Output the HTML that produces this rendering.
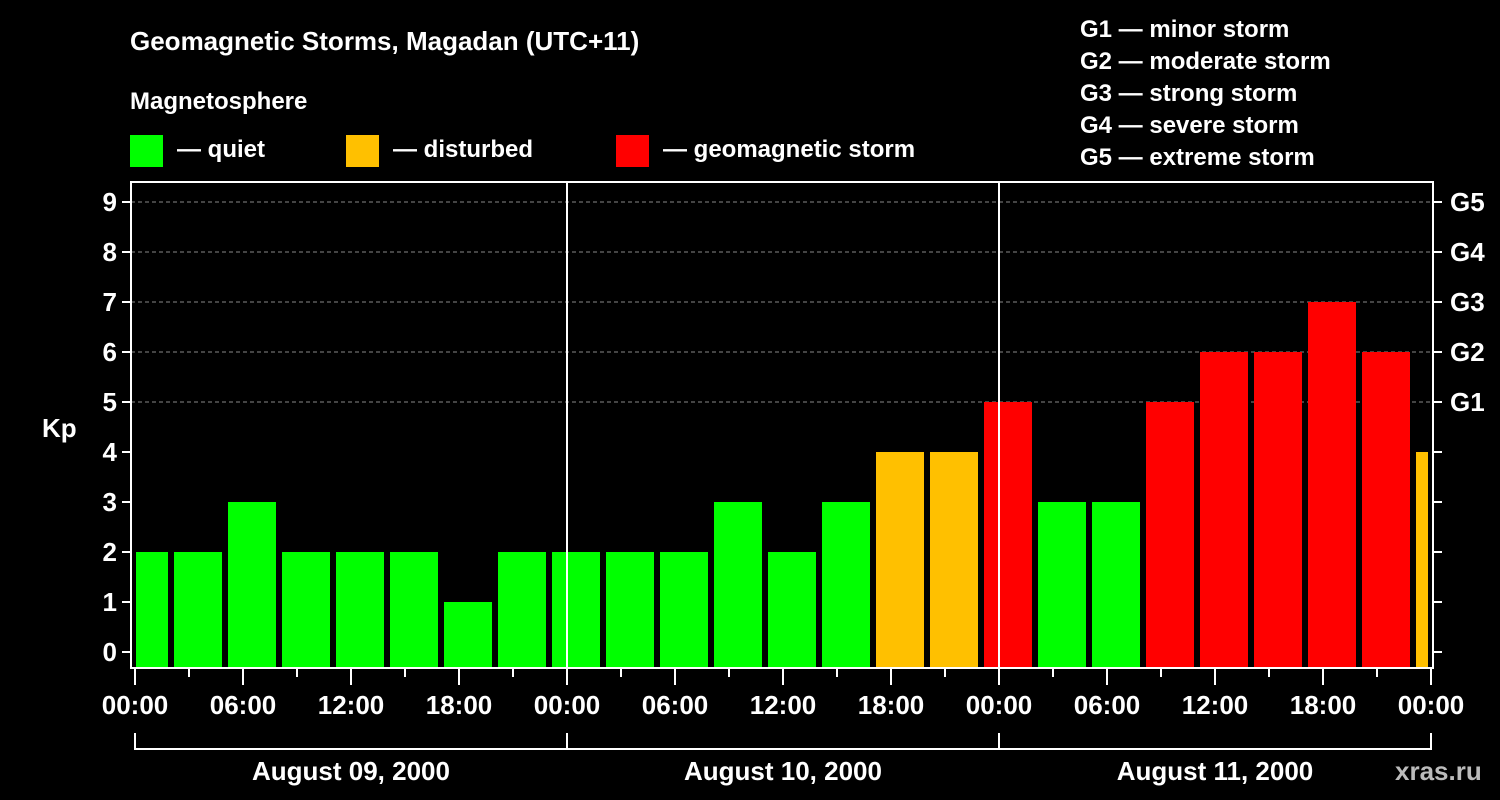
<!DOCTYPE html>
<html><head><meta charset="utf-8"><style>
body{margin:0;background:#000;width:1500px;height:800px;overflow:hidden}
svg{display:block}
text{font-family:"Liberation Sans",sans-serif;font-weight:bold;fill:#fff}
</style></head><body>
<svg width="1500" height="800">
<g>
<text x="130" y="50" font-size="26">Geomagnetic Storms, Magadan (UTC+11)</text>
<text x="130" y="109" font-size="24">Magnetosphere</text>
<rect x="130" y="135" width="33" height="32" fill="#00ff00"/>
<text x="177" y="157" font-size="24">— quiet</text>
<rect x="346" y="135" width="33" height="32" fill="#ffc000"/>
<text x="393" y="157" font-size="24">— disturbed</text>
<rect x="616" y="135" width="33" height="32" fill="#ff0000"/>
<text x="663" y="157" font-size="24">— geomagnetic storm</text>
<text x="1080" y="37" font-size="24">G1 — minor storm</text>
<text x="1080" y="69" font-size="24">G2 — moderate storm</text>
<text x="1080" y="101" font-size="24">G3 — strong storm</text>
<text x="1080" y="133" font-size="24">G4 — severe storm</text>
<text x="1080" y="165" font-size="24">G5 — extreme storm</text>
<text x="1395" y="780" font-size="26" fill="#bbb" style="fill:#bbb">xras.ru</text>
<text x="42" y="437" font-size="26">Kp</text>
</g>
<g id="plot"></g>
</svg>
<script>
const kpValues=[2,2,3,2,2,2,1,2, 2,2,2,3,2,3,4,4, 5,3,3,5,6,6,7,6, 4];
const dayLabels=["August 09, 2000","August 10, 2000","August 11, 2000"];
const yTicks=[0,1,2,3,4,5,6,7,8,9];
const gLabels=["G1","G2","G3","G4","G5"];
const xTickLabels=["00:00","06:00","12:00","18:00"];

const NS="http://www.w3.org/2000/svg";
const g=document.getElementById('plot');
const L=131,R=1433,T=182,B=668,X0=135,DAY=432;
const y=v=>652-50*v;
const x=h=>X0+h*DAY/24;
function mk(t,a){const e=document.createElementNS(NS,t);for(const k in a)e.setAttribute(k,a[k]);g.appendChild(e);return e;}

// grid
for(let v=5;v<=9;v++){
  const e=mk('line',{x1:L,x2:R,y1:y(v),y2:y(v),stroke:'#888','stroke-dasharray':'4,3','stroke-width':1});
  
  
}
// bars
kpValues.forEach((v,i)=>{
  const c=x(3*i+0.5);
  let x1=Math.max(c-24,L+5), x2=Math.min(c+24,R-5);
  const col=v>=5?'#ff0000':(v>=4?'#ffc000':'#00ff00');
  const e=mk('rect',{x:x1,y:y(v),width:x2-x1,height:B-y(v),fill:col});
  
  
});
// day separators
for(let d=1;d<dayLabels.length;d++){
  const e=mk('line',{x1:x(24*d),x2:x(24*d),y1:T,y2:B,stroke:'#fff','stroke-width':2});
  
  
}
// frame
const fr=mk('rect',{x:L,y:T,width:R-L,height:B-T,fill:'none',stroke:'#fff','stroke-width':2});


// y ticks
yTicks.forEach(v=>{
  mk('line',{x1:L-9,x2:L,y1:y(v),y2:y(v),stroke:'#fff','stroke-width':2});
  mk('line',{x1:R,x2:R+9,y1:y(v),y2:y(v),stroke:'#fff','stroke-width':2});
  const t=mk('text',{x:L-14,y:y(v)+9,'font-size':26,'text-anchor':'end'});t.textContent=v;
  
  
});
gLabels.forEach((s,i)=>{
  const t=mk('text',{x:1450,y:y(5+i)+9,'font-size':26});t.textContent=s;
  
  
});
// x ticks
for(let h=0;h<=72;h+=3){
  const long=h%6===0;
  mk('line',{x1:x(h),x2:x(h),y1:B,y2:B+(long?17:9),stroke:'#fff','stroke-width':2});
  if(long){
    const t=mk('text',{x:x(h),y:714,'font-size':26,'text-anchor':'middle'});
    t.textContent=xTickLabels[(h/6)%4];
    
    
  }
}
// bracket
mk('line',{x1:x(0),x2:x(72),y1:749,y2:749,stroke:'#fff','stroke-width':2});
for(let d=0;d<=dayLabels.length;d++) mk('line',{x1:x(24*d),x2:x(24*d),y1:733,y2:750,stroke:'#fff','stroke-width':2});
dayLabels.forEach((s,d)=>{
  const t=mk('text',{x:x(24*d+12),y:780,'font-size':26,'text-anchor':'middle'});t.textContent=s;
  
  
});
</script>
</body></html>
